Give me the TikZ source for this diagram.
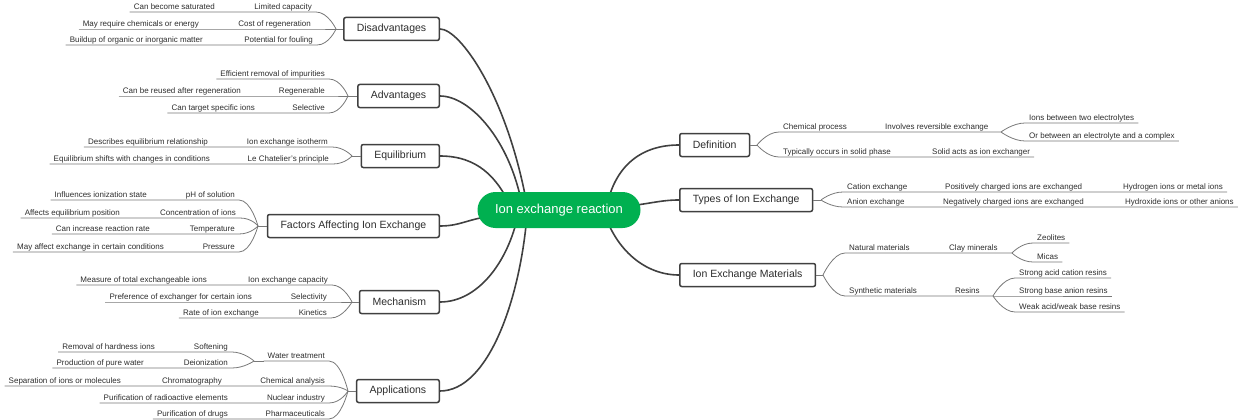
\documentclass[tikz,border=0pt]{standalone}
\usepackage{fontspec}
\setmainfont{Liberation Sans}
\usetikzlibrary{backgrounds}
\definecolor{rootgreen}{RGB}{0,176,80}
\definecolor{linkc}{RGB}{64,64,64}
\definecolor{subc}{RGB}{120,120,120}
\definecolor{txt}{RGB}{45,45,45}
\begin{document}
\begin{tikzpicture}[x=1pt,y=-1pt,
  rootn/.style={fill=rootgreen, text=white, rounded corners=18pt, minimum width=163pt, minimum height=36pt, inner sep=0pt, font=\fontsize{13}{15}\selectfont},
  topic/.style={draw=linkc, line width=1.5pt, fill=white, rounded corners=2pt, minimum height=23pt, inner xsep=13pt, inner ysep=0pt, font=\fontsize{10.5}{12}\selectfont, text=txt},
  lbl/.style={font=\fontsize{8}{9}\selectfont, text=txt, inner xsep=4pt, inner ysep=0.7pt, text height=5.8pt, text depth=1.6pt},
  lblL/.style={lbl, anchor=south east},
  lblR/.style={lbl, anchor=south west},
  link/.style={draw=linkc, line width=1.6pt},
  sub/.style={draw=subc, line width=0.8pt}]
\useasboundingbox (0,0) rectangle (1240,420);

% root and main topics
\node[rootn] (root) at (559,210) {Ion exchange reaction};
\node[topic, anchor=east] (dis) at (440,29) {Disadvantages};
\node[topic, anchor=east] (adv) at (440,96) {Advantages};
\node[topic, anchor=east] (eq) at (440,156) {Equilibrium};
\node[topic, anchor=east] (fac) at (440,226) {Factors Affecting Ion Exchange};
\node[topic, anchor=east] (mec) at (440,302) {Mechanism};
\node[topic, anchor=east] (app) at (440,391) {Applications};
\node[topic, anchor=west] (def) at (679,145) {Definition};
\node[topic, anchor=west] (typ) at (679,200) {Types of Ion Exchange};
\node[topic, anchor=west] (mat) at (679,275) {Ion Exchange Materials};

% hidden ends of root connectors
\coordinate (rDis) at (527,205);
\coordinate (rAdv) at (522,205);
\coordinate (rEq) at (510,205);
\coordinate (rFac) at (500,215);
\coordinate (rMec) at (518,215);
\coordinate (rApp) at (527,215);
\coordinate (rDef) at (606,210);
\coordinate (rTyp) at (620,207);
\coordinate (rMat) at (604,212);

\begin{scope}[on background layer]
\draw[link] (dis.east) .. controls (460,29) and (507,95) .. (rDis);
\draw[link] (adv.east) .. controls (470,96) and (510,140) .. (rAdv);
\draw[link] (eq.east) .. controls (478,156) and (497,178) .. (rEq);
\draw[link] (fac.east) .. controls (462,226) and (468,218) .. (rFac);
\draw[link] (mec.east) .. controls (478,302) and (508,262) .. (rMec);
\draw[link] (app.east) .. controls (488,391) and (520,300) .. (rApp);
\draw[link] (rDef) .. controls (614,165) and (642,145) .. (def.west);
\draw[link] (rTyp) .. controls (650,204) and (660,200) .. (typ.west);
\draw[link] (rMat) .. controls (616,250) and (645,275) .. (mat.west);
\end{scope}

% junctions
\coordinate (Jdis) at (336,29);
\coordinate (Jadv) at (348,96);
\coordinate (Jeq) at (352,156);
\coordinate (Jfac) at (258,226);
\coordinate (Jmec) at (352,302);
\coordinate (Japp) at (348,391);
\coordinate (Jwt) at (254,361);
\coordinate (Jdef) at (757,145);
\coordinate (Jire) at (1001,132);
\coordinate (Jtyp) at (821,200);
\coordinate (Jmat) at (823,275);
\coordinate (Jclay) at (1012,253);
\coordinate (Jres) at (993,296);

% ---------- Disadvantages ----------
\node[lblL] (d1) at (316,12) {Limited capacity};
\node[lblL] (d1g) at (219,12) {Can become saturated};
\node[lblL] (d2) at (315,29) {Cost of regeneration};
\node[lblL] (d2g) at (203,29) {May require chemicals or energy};
\node[lblL] (d3) at (317,45) {Potential for fouling};
\node[lblL] (d3g) at (207,45) {Buildup of organic or inorganic matter};
\draw[sub] (dis.west) -- (Jdis);
\draw[sub] (d1g.south west) -- (d1.south east) .. controls +(12,0) and (Jdis) .. (Jdis);
\draw[sub] (d2g.south west) -- (d2.south east) -- (Jdis);
\draw[sub] (d3g.south west) -- (d3.south east) .. controls +(12,0) and (Jdis) .. (Jdis);

% ---------- Advantages ----------
\node[lblL] (a1) at (329,79) {Efficient removal of impurities};
\node[lblL] (a2) at (329,96) {Regenerable};
\node[lblL] (a2g) at (245,96) {Can be reused after regeneration};
\node[lblL] (a3) at (329,113) {Selective};
\node[lblL] (a3g) at (259,113) {Can target specific ions};
\draw[sub] (adv.west) -- (Jadv);
\draw[sub] (a1.south west) -- (a1.south east) .. controls +(12,0) and (Jadv) .. (Jadv);
\draw[sub] (a2g.south west) -- (a2.south east) -- (Jadv);
\draw[sub] (a3g.south west) -- (a3.south east) .. controls +(12,0) and (Jadv) .. (Jadv);

% ---------- Equilibrium ----------
\node[lblL] (e1) at (332,147) {Ion exchange isotherm};
\node[lblL] (e1g) at (212,147) {Describes equilibrium relationship};
\node[lblL] (e2) at (333,164) {Le Chatelier's principle};
\node[lblL] (e2g) at (214,164) {Equilibrium shifts with changes in conditions};
\draw[sub] (eq.west) -- (Jeq);
\draw[sub] (e1g.south west) -- (e1.south east) .. controls +(12,0) and (Jeq) .. (Jeq);
\draw[sub] (e2g.south west) -- (e2.south east) .. controls +(12,0) and (Jeq) .. (Jeq);

% ---------- Factors ----------
\node[lblL] (f1) at (239,200) {pH of solution};
\node[lblL] (f1g) at (151,200) {Influences ionization state};
\node[lblL] (f2) at (240,218) {Concentration of ions};
\node[lblL] (f2g) at (124,218) {Affects equilibrium position};
\node[lblL] (f3) at (239,234) {Temperature};
\node[lblL] (f3g) at (154,234) {Can increase reaction rate};
\node[lblL] (f4) at (239,252) {Pressure};
\node[lblL] (f4g) at (168,252) {May affect exchange in certain conditions};
\draw[sub] (fac.west) -- (Jfac);
\draw[sub] (f1g.south west) -- (f1.south east) .. controls +(12,0) and (Jfac) .. (Jfac);
\draw[sub] (f2g.south west) -- (f2.south east) .. controls +(12,0) and (Jfac) .. (Jfac);
\draw[sub] (f3g.south west) -- (f3.south east) .. controls +(12,0) and (Jfac) .. (Jfac);
\draw[sub] (f4g.south west) -- (f4.south east) .. controls +(12,0) and (Jfac) .. (Jfac);

% ---------- Mechanism ----------
\node[lblL] (m1) at (332,285) {Ion exchange capacity};
\node[lblL] (m1g) at (211,285) {Measure of total exchangeable ions};
\node[lblL] (m2) at (331,302) {Selectivity};
\node[lblL] (m2g) at (256,302) {Preference of exchanger for certain ions};
\node[lblL] (m3) at (331,318) {Kinetics};
\node[lblL] (m3g) at (263,318) {Rate of ion exchange};
\draw[sub] (mec.west) -- (Jmec);
\draw[sub] (m1g.south west) -- (m1.south east) .. controls +(12,0) and (Jmec) .. (Jmec);
\draw[sub] (m2g.south west) -- (m2.south east) -- (Jmec);
\draw[sub] (m3g.south west) -- (m3.south east) .. controls +(12,0) and (Jmec) .. (Jmec);

% ---------- Applications ----------
\node[lblL] (p1) at (329,361) {Water treatment};
\node[lblL] (p1a) at (232,352) {Softening};
\node[lblL] (p1ag) at (159,352) {Removal of hardness ions};
\node[lblL] (p1b) at (232,368) {Deionization};
\node[lblL] (p1bg) at (148,368) {Production of pure water};
\node[lblL] (p2) at (329,386) {Chemical analysis};
\node[lblL] (p2g) at (226,386) {Chromatography};
\node[lblL] (p2gg) at (125,386) {Separation of ions or molecules};
\node[lblL] (p3) at (329,403) {Nuclear industry};
\node[lblL] (p3g) at (232,403) {Purification of radioactive elements};
\node[lblL] (p4) at (329,419) {Pharmaceuticals};
\node[lblL] (p4g) at (232,419) {Purification of drugs};
\draw[sub] (app.west) -- (Japp);
\draw[sub] (Jwt) -- (p1.south west);
\draw[sub] (p1.south west) -- (p1.south east) .. controls +(12,0) and (Japp) .. (Japp);
\draw[sub] (p1ag.south west) -- (p1a.south east) .. controls +(12,0) and (Jwt) .. (Jwt);
\draw[sub] (p1bg.south west) -- (p1b.south east) .. controls +(12,0) and (Jwt) .. (Jwt);
\draw[sub] (p2gg.south west) -- (p2.south east) .. controls +(12,0) and (Japp) .. (Japp);
\draw[sub] (p3g.south west) -- (p3.south east) .. controls +(12,0) and (Japp) .. (Japp);
\draw[sub] (p4g.south west) -- (p4.south east) .. controls +(12,0) and (Japp) .. (Japp);

% ---------- Definition ----------
\node[lblR] (r1) at (779,132) {Chemical process};
\node[lblR] (r1g) at (881,132) {Involves reversible exchange};
\node[lblR] (r1a) at (1025,123) {Ions between two electrolytes};
\node[lblR] (r1b) at (1025,141) {Or between an electrolyte and a complex};
\node[lblR] (r2) at (779,157) {Typically occurs in solid phase};
\node[lblR] (r2g) at (928,157) {Solid acts as ion exchanger};
\draw[sub] (def.east) -- (Jdef);
\draw[sub] (Jdef) .. controls (Jdef) and +(-12,0) .. (r1.south west) -- (r1g.south east) -- (Jire);
\draw[sub] (Jdef) .. controls (Jdef) and +(-12,0) .. (r2.south west) -- (r2g.south east);
\draw[sub] (Jire) .. controls (Jire) and +(-12,0) .. (r1a.south west) -- (r1a.south east);
\draw[sub] (Jire) .. controls (Jire) and +(-12,0) .. (r1b.south west) -- (r1b.south east);

% ---------- Types ----------
\node[lblR] (t1) at (843,192) {Cation exchange};
\node[lblR] (t1g) at (941,192) {Positively charged ions are exchanged};
\node[lblR] (t1gg) at (1119,192) {Hydrogen ions or metal ions};
\node[lblR] (t2) at (843,207) {Anion exchange};
\node[lblR] (t2g) at (939,207) {Negatively charged ions are exchanged};
\node[lblR] (t2gg) at (1121,207) {Hydroxide ions or other anions};
\draw[sub] (typ.east) -- (Jtyp);
\draw[sub] (Jtyp) .. controls (Jtyp) and +(-12,0) .. (t1.south west) -- (t1gg.south east);
\draw[sub] (Jtyp) .. controls (Jtyp) and +(-12,0) .. (t2.south west) -- (t2gg.south east);

% ---------- Materials ----------
\node[lblR] (n1) at (845,253) {Natural materials};
\node[lblR] (n1g) at (945,253) {Clay minerals};
\node[lblR] (n1a) at (1033,243) {Zeolites};
\node[lblR] (n1b) at (1033,262) {Micas};
\node[lblR] (n2) at (845,296) {Synthetic materials};
\node[lblR] (n2g) at (951,296) {Resins};
\node[lblR] (n2a) at (1015,278) {Strong acid cation resins};
\node[lblR] (n2b) at (1015,296) {Strong base anion resins};
\node[lblR] (n2c) at (1015,312) {Weak acid/weak base resins};
\draw[sub] (mat.east) -- (Jmat);
\draw[sub] (Jmat) .. controls (Jmat) and +(-12,0) .. (n1.south west) -- (n1g.south east) -- (Jclay);
\draw[sub] (Jmat) .. controls (Jmat) and +(-12,0) .. (n2.south west) -- (n2g.south east) -- (Jres);
\draw[sub] (Jclay) .. controls (Jclay) and +(-12,0) .. (n1a.south west) -- (n1a.south east);
\draw[sub] (Jclay) .. controls (Jclay) and +(-12,0) .. (n1b.south west) -- (n1b.south east);
\draw[sub] (Jres) .. controls (Jres) and +(-12,0) .. (n2a.south west) -- (n2a.south east);
\draw[sub] (Jres) -- (n2b.south west) -- (n2b.south east);
\draw[sub] (Jres) .. controls (Jres) and +(-12,0) .. (n2c.south west) -- (n2c.south east);
\end{tikzpicture}
\end{document}
